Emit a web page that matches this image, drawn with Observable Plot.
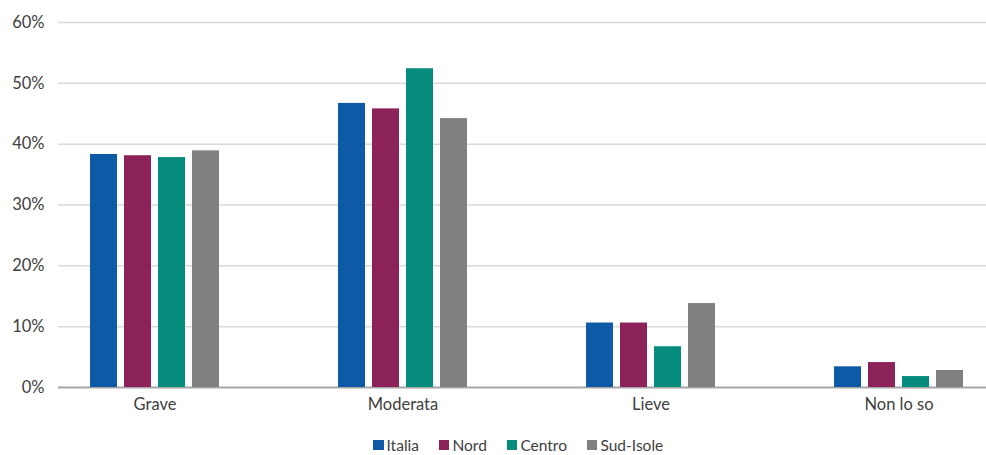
<!DOCTYPE html>
<html><head><meta charset="utf-8">
<script src="https://cdn.jsdelivr.net/npm/d3@7"></script>
<script src="https://cdn.jsdelivr.net/npm/@observablehq/plot@0.6"></script>
<style>
html,body{margin:0;background:#fff;font-family:Lato,"Open Sans",sans-serif;overflow:hidden;}
#chart{position:relative;width:986px;height:425px;}
#chart svg{position:absolute;left:0;top:0;}
#legend{display:flex;align-items:center;height:21px;padding-top:9px;margin-left:373px;font-size:15.5px;line-height:20px;color:#404040;}
.item{display:flex;align-items:center;margin-right:20px;}
.sw{width:10.5px;height:10.5px;margin-right:3px;margin-top:1px;}
</style>
</head><body><div id="chart"></div><div id="legend"></div><script>
const categories = ["Grave", "Moderata", "Lieve", "Non lo so"];
const series = ["Italia", "Nord", "Centro", "Sud-Isole"];
const italia = [38.3, 46.7, 10.6, 3.4];
const nord = [38.1, 45.8, 10.6, 4.1];
const centro = [37.8, 52.4, 6.7, 1.8];
const sudIsole = [38.9, 44.2, 13.8, 2.8];
const colors = ["#0e5aa7", "#8b2359", "#058c7c", "#808080"];
const yTicks = [0, 10, 20, 30, 40, 50, 60];

const values = [italia, nord, centro, sudIsole];
const data = categories.flatMap((c, i) => series.map((s, j) => ({category: c, series: s, value: values[j][i]})));

const common = {
  width: 986, height: 425,
  marginLeft: 58, marginRight: 0, marginTop: 22, marginBottom: 38,
  style: {fontFamily: "Lato, 'Open Sans', sans-serif", fontSize: "16.5px", color: "#404040", background: "transparent"}
};

// background: grid, y labels, baseline
const bg = Plot.plot({
  ...common,
  y: {domain: [0, 60], ticks: yTicks, tickFormat: d => d + "%", label: null, tickSize: 0, tickPadding: 14},
  marks: [
    Plot.ruleY(yTicks.filter(d => d > 0), {stroke: "#d9d9d9", strokeWidth: 1.5}),
    Plot.ruleY([0], {stroke: "#a6a6a6", strokeWidth: 2})
  ]
});

// foreground: grouped bars
const fg = Plot.plot({
  ...common,
  fx: {domain: categories, range: [29.85, 1023.15], paddingInner: 0.47, paddingOuter: 0.235, label: null, tickSize: 0, tickPadding: 11, axis: "bottom"},
  x: {domain: series, axis: null, paddingInner: 0.2, paddingOuter: 0},
  y: {domain: [0, 60], axis: null},
  color: {domain: series, range: colors},
  marks: [
    Plot.barY(data, {fx: "category", x: "series", y: "value", fill: "series"})
  ]
});

const chart = document.getElementById("chart");
chart.appendChild(bg);
chart.appendChild(fg);

const legend = document.getElementById("legend");
series.forEach((s, i) => {
  const it = document.createElement("div"); it.className = "item";
  const sw = document.createElement("div"); sw.className = "sw"; sw.style.background = colors[i];
  const t = document.createElement("span"); t.textContent = s;
  it.appendChild(sw); it.appendChild(t); legend.appendChild(it);
});
</script></body></html>
